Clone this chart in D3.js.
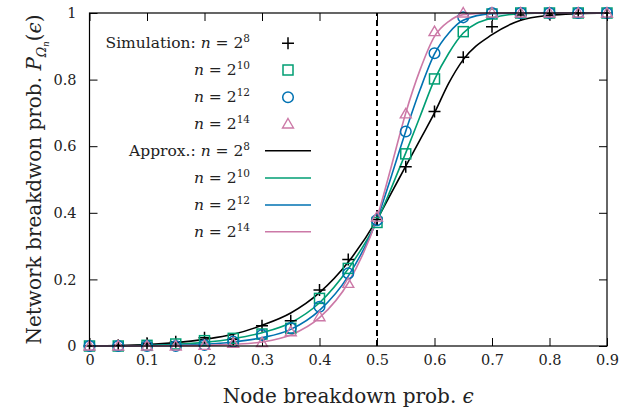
<!DOCTYPE html>
<html>
<head>
<meta charset="utf-8">
<script src="https://cdn.jsdelivr.net/npm/d3@7"></script>
<style>
  body { margin: 0; background: #fff; }
  text { font-family: "DejaVu Serif", "Liberation Serif", serif; fill: #222; }
</style>
</head>
<body>
<script>
// simulation points, eps = 0, 0.05, ..., 0.9
const eps = [0, 0.05, 0.1, 0.15, 0.2, 0.25, 0.3, 0.35, 0.4, 0.45, 0.5, 0.55, 0.6, 0.65, 0.7, 0.75, 0.8, 0.85, 0.9];
const sim8 = [0, 0.002, 0.008, 0.013, 0.025, 0.02, 0.061, 0.076, 0.168, 0.26, 0.38, 0.538, 0.704, 0.867, 0.959, 0.994, 0.998, 1, 1];
const sim10 = [0, 0, 0.002, 0.006, 0.016, 0.023, 0.036, 0.053, 0.143, 0.233, 0.371, 0.577, 0.802, 0.944, 0.997, 1, 1, 1, 1];
const sim12 = [0, 0, 0, 0, 0.003, 0.013, 0.033, 0.054, 0.118, 0.218, 0.378, 0.644, 0.879, 0.987, 1, 1, 1, 1, 1];
const sim14 = [0, 0, 0, 0, 0.002, 0.008, 0.01, 0.043, 0.088, 0.188, 0.387, 0.697, 0.944, 1, 1, 1, 1, 1, 1];

// approximation curves, read at a finer step around the transition
const epsFine = [0, 0.05, 0.1, 0.15, 0.2, 0.25, 0.3, 0.35, 0.4, 0.45, 0.5, 0.525, 0.55, 0.575, 0.6, 0.625, 0.65, 0.7, 0.75, 0.8, 0.85, 0.9];
const approx8 = [0, 0.001, 0.004, 0.01, 0.02, 0.035, 0.062, 0.099, 0.16, 0.252, 0.38, 0.46, 0.54, 0.62, 0.70, 0.79, 0.86, 0.935, 0.978, 0.993, 0.998, 1];
const approx10 = [0, 0, 0.002, 0.005, 0.011, 0.022, 0.04, 0.07, 0.13, 0.232, 0.375, 0.475, 0.58, 0.69, 0.80, 0.88, 0.94, 0.985, 0.998, 1, 1, 1];
const approx12 = [0, 0, 0.001, 0.002, 0.005, 0.012, 0.025, 0.05, 0.107, 0.21, 0.38, 0.51, 0.645, 0.77, 0.877, 0.94, 0.978, 0.998, 1, 1, 1, 1];
const approx14 = [0, 0, 0, 0.001, 0.002, 0.005, 0.012, 0.033, 0.085, 0.19, 0.385, 0.54, 0.70, 0.83, 0.93, 0.975, 0.995, 1, 1, 1, 1, 1];

const xTicks = [0, 0.1, 0.2, 0.3, 0.4, 0.5, 0.6, 0.7, 0.8, 0.9];
const yTicks = [0, 0.2, 0.4, 0.6, 0.8, 1];
const powers = ['8', '10', '12', '14'];
const colors = ['#000000', '#009e73', '#0072b2', '#cc79a7'];

const w = 635;
const h = 413;
const margin = { left: 89.5, right: 28, top: 13, bottom: 67 };
const serif = '"DejaVu Serif", serif';

const svg = d3.select('body').append('svg').attr('width', w).attr('height', h);

const x = d3.scaleLinear().domain([0, 0.9]).range([margin.left, w - margin.right]);
const y = d3.scaleLinear().domain([0, 1]).range([h - margin.bottom, margin.top]);

// ticks, inward on all sides
const tl = 8;
const axisX = d3.axisBottom(x).tickValues(xTicks).tickSizeInner(-tl).tickSizeOuter(0).tickPadding(9)
  .tickFormat(d3.format('~g'));
const axisY = d3.axisLeft(y).tickValues(yTicks).tickSizeInner(-tl).tickSizeOuter(0).tickPadding(13)
  .tickFormat(d3.format('~g'));

const gx = svg.append('g').attr('transform', `translate(0,${y(0)})`).call(axisX);
const gy = svg.append('g').attr('transform', `translate(${x(0)},0)`).call(axisY);
svg.append('g').attr('transform', `translate(0,${y(1)})`)
  .call(d3.axisTop(x).tickValues(xTicks).tickSizeInner(-tl).tickSizeOuter(0).tickFormat(''));
svg.append('g').attr('transform', `translate(${x(0.9)},0)`)
  .call(d3.axisRight(y).tickValues(yTicks).tickSizeInner(-tl).tickSizeOuter(0).tickFormat(''));

svg.selectAll('.domain').remove();
svg.selectAll('.tick line').attr('stroke', '#000').attr('stroke-width', 1);
gx.selectAll('text').attr('font-size', 14.5).attr('fill', '#222').style('font-family', serif);
gy.selectAll('text').attr('font-size', 14.5).attr('fill', '#222').style('font-family', serif);

// threshold line
svg.append('line')
  .attr('x1', x(0.5)).attr('x2', x(0.5))
  .attr('y1', y(0)).attr('y2', y(1))
  .attr('stroke', '#000').attr('stroke-width', 2).attr('stroke-dasharray', '6,4');

// approximation curves
const approxes = [approx8, approx10, approx12, approx14];
const line = d3.line().x((d) => x(d[0])).y((d) => y(d[1])).curve(d3.curveMonotoneX);
approxes.forEach((arr, i) => {
  svg.append('path')
    .datum(epsFine.map((e, j) => [e, arr[j]]))
    .attr('d', line)
    .attr('fill', 'none')
    .attr('stroke', colors[i])
    .attr('stroke-width', 1.6);
});

// markers
const drawMarker = (g, kind, cx, cy) => {
  if (kind === 0) {
    g.append('path').attr('d', `M${cx - 6},${cy}H${cx + 6}M${cx},${cy - 6}V${cy + 6}`)
      .attr('stroke', colors[0]).attr('stroke-width', 1.5).attr('fill', 'none');
  } else if (kind === 1) {
    g.append('rect').attr('x', cx - 5).attr('y', cy - 5).attr('width', 10).attr('height', 10)
      .attr('stroke', colors[1]).attr('stroke-width', 1.5).attr('fill', 'none');
  } else if (kind === 2) {
    g.append('circle').attr('cx', cx).attr('cy', cy).attr('r', 5.3)
      .attr('stroke', colors[2]).attr('stroke-width', 1.5).attr('fill', 'none');
  } else {
    g.append('path').attr('d', `M${cx},${cy - 5.5}L${cx + 5.5},${cy + 4}L${cx - 5.5},${cy + 4}Z`)
      .attr('stroke', colors[3]).attr('stroke-width', 1.4).attr('fill', 'none');
  }
};

const sims = [sim8, sim10, sim12, sim14];
const markers = svg.append('g');
sims.forEach((arr, i) => {
  arr.forEach((v, j) => drawMarker(markers, i, x(eps[j]), y(v)));
});

// frame
svg.append('rect')
  .attr('x', x(0)).attr('y', y(1))
  .attr('width', x(0.9) - x(0)).attr('height', y(0) - y(1))
  .attr('fill', 'none').attr('stroke', '#000').attr('stroke-width', 1.2);

// legend
const legend = svg.append('g');
const rowY = [43.3, 70, 97.3, 124, 150.7, 178, 205, 231.7];
const textRight = 250;
const nLabel = (t, pow, prefix) => {
  if (prefix) t.append('tspan').text(prefix);
  t.append('tspan').attr('font-style', 'italic').text('n');
  t.append('tspan').text(' = 2');
  t.append('tspan').attr('font-size', 10.5).attr('dy', -6).text(pow);
};
powers.forEach((p, i) => {
  const t = legend.append('text').attr('x', textRight).attr('y', rowY[i] + 5)
    .attr('text-anchor', 'end').attr('font-size', 15.5);
  nLabel(t, p, i === 0 ? 'Simulation: ' : null);
  drawMarker(legend, i, 288, rowY[i]);
});
powers.forEach((p, i) => {
  const ry = rowY[i + 4];
  const t = legend.append('text').attr('x', textRight).attr('y', ry + 5)
    .attr('text-anchor', 'end').attr('font-size', 15.5);
  nLabel(t, p, i === 0 ? 'Approx.: ' : null);
  legend.append('line').attr('x1', 265).attr('x2', 311).attr('y1', ry).attr('y2', ry)
    .attr('stroke', colors[i]).attr('stroke-width', 1.6);
});

// axis titles
const xt = svg.append('text')
  .attr('x', (x(0) + x(0.9)) / 2).attr('y', 403)
  .attr('text-anchor', 'middle').attr('font-size', 20);
xt.append('tspan').text('Node breakdown prob. ');
xt.append('tspan').attr('font-style', 'italic').text('ϵ');

const yt = svg.append('text')
  .attr('transform', `translate(41,${(y(0) + y(1)) / 2}) rotate(-90)`)
  .attr('text-anchor', 'middle').attr('font-size', 20);
yt.append('tspan').text('Network breakdwon prob. ');
yt.append('tspan').attr('font-style', 'italic').text('P');
yt.append('tspan').attr('font-size', 12.5).attr('dy', 5).attr('font-style', 'italic').text('Ω');
yt.append('tspan').attr('font-size', 8.5).attr('dy', 3).attr('font-style', 'italic').text('n');
yt.append('tspan').attr('dy', -8).text('(');
yt.append('tspan').attr('font-style', 'italic').text('ϵ');
yt.append('tspan').text(')');
</script>
</body>
</html>
